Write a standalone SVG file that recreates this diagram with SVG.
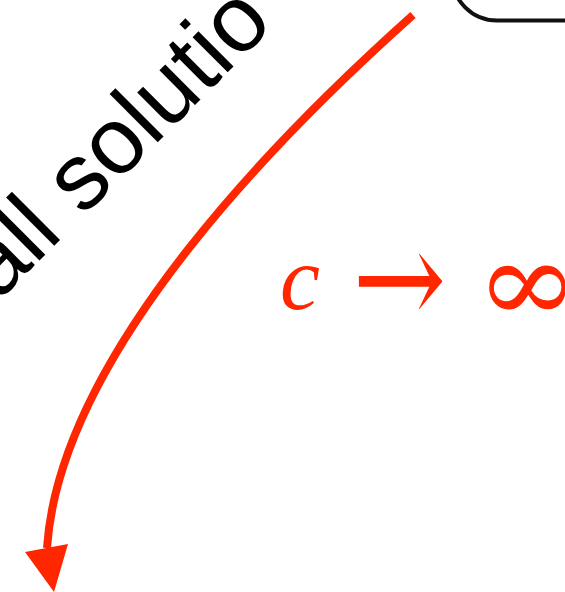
<svg xmlns="http://www.w3.org/2000/svg" width="565" height="592" viewBox="0 0 565 592">
<style>
.lbl{font-family:"Liberation Sans",Arial,sans-serif;fill:#000}
.math{font-family:"Liberation Serif","Times New Roman",serif;fill:#ff2600}
.sym{font-family:"DejaVu Serif",serif;fill:#ff2600}
.conn{fill:none;stroke:#ff2600;stroke-width:8}
</style>
<rect width="565" height="592" fill="#fff"/>
<g id="node-box">
<rect x="452" y="-100" width="200" height="120.5" rx="45" ry="45" fill="none" stroke="#111" stroke-width="4"/>
</g>
<g id="label-all-solutions">
<text class="lbl" x="-2" y="302" font-size="94" transform="rotate(-45 -2 302)">all solutio</text>
</g>
<g id="label-limit">
<text class="math" x="280" y="309" font-size="90" font-style="italic">c</text>
<text class="sym" x="0" y="0" font-size="100" transform="translate(352.4,325.3) scale(1.12,1.35)">→</text>
<text class="sym" x="0" y="0" font-size="115" transform="translate(475.8,322) scale(1.08,1)">∞</text>
</g>
<g id="connectors">
<path class="conn" d="M413,15 C290,125 60,350 47,548"/>
<polygon points="25,552 68,544 54,592" fill="#ff2600"/>
</g>
</svg>
